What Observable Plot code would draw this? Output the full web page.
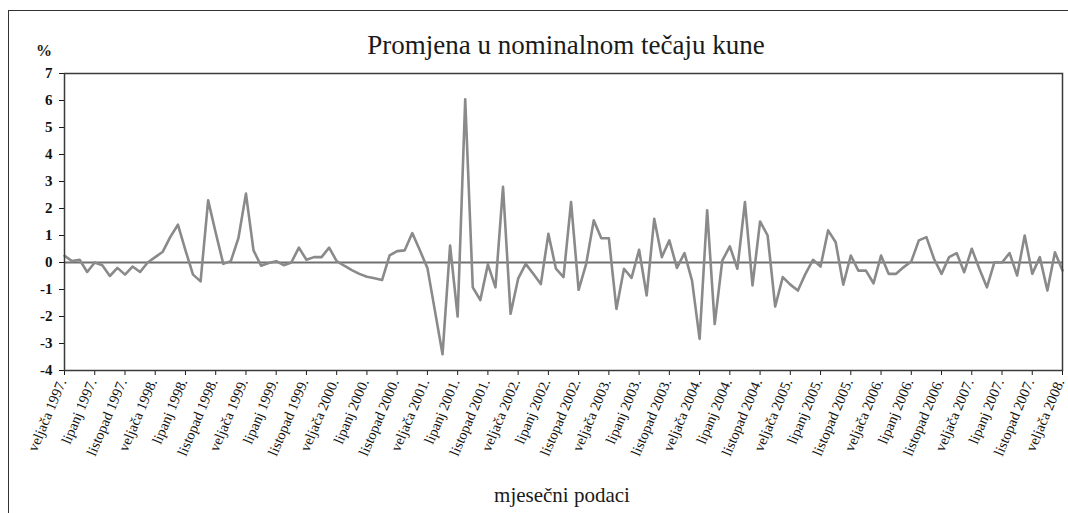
<!DOCTYPE html>
<html>
<head>
<meta charset="utf-8">
<script src="https://cdn.jsdelivr.net/npm/d3@7"></script>
<script src="https://cdn.jsdelivr.net/npm/@observablehq/plot@0.6"></script>
<style>
  body { margin: 0; background: #fff; }
  #wrap { position: relative; width: 1068px; height: 513px; overflow: hidden;
          font-family: "Liberation Serif", "Times New Roman", serif; color: #1a1a1a; }
  #border { position: absolute; left: 8px; top: 10px; width: 1080px; height: 530px;
            border: 1.5px solid #333; box-sizing: border-box; }
  .lbl { position: absolute; white-space: nowrap; line-height: 1; }
  #title { left: 566px; top: 32px; font-size: 27px; transform: translateX(-50%); }
  #pct { left: 36px; top: 43px; font-size: 16px; font-weight: bold; }
  #xlab { left: 562px; top: 485px; font-size: 21px; transform: translateX(-50%); }
  #chart { position: absolute; left: 0; top: 0; }
</style>
</head>
<body>
<div id="wrap">
  <div id="border"></div>
  <div id="chart"></div>
  <div class="lbl" id="title">Promjena u nominalnom tečaju kune</div>
  <div class="lbl" id="pct">%</div>
  <div class="lbl" id="xlab">mjesečni podaci</div>
</div>
<script>
// Monthly % change, veljača 1997 (index 0) … veljača 2008 (index 132)
const change = [
  0.25, 0.05, 0.1, -0.35, 0.0, -0.1, -0.5, -0.2, -0.45, -0.15,
  -0.35, 0.0, 0.2, 0.4, 0.95, 1.4, 0.45, -0.45, -0.7, 2.3,
  1.1, -0.05, 0.05, 0.9, 2.55, 0.45, -0.12, -0.02, 0.05, -0.1,
  0.0, 0.55, 0.1, 0.2, 0.2, 0.55, 0.05, -0.12, -0.28, -0.42,
  -0.53, -0.58, -0.65, 0.26, 0.42, 0.45, 1.09, 0.45, -0.2, -1.8,
  -3.4, 0.63, -2.0, 6.04, -0.92, -1.39, -0.07, -0.92, 2.8, -1.9,
  -0.6, -0.05, -0.42, -0.8, 1.06, -0.23, -0.54, 2.24, -1.01, -0.05,
  1.56, 0.9, 0.9, -1.72, -0.23, -0.57, 0.47, -1.22, 1.62, 0.2,
  0.82, -0.2, 0.35, -0.67, -2.83, 1.93, -2.28, 0.07, 0.6, -0.23,
  2.24, -0.85, 1.52, 1.0, -1.63, -0.54, -0.82, -1.04, -0.42, 0.1,
  -0.15, 1.19, 0.75, -0.82, 0.26, -0.3, -0.3, -0.77, 0.26, -0.42,
  -0.42, -0.17, 0.04, 0.82, 0.94, 0.14, -0.42, 0.2, 0.35, -0.36,
  0.51, -0.23, -0.92, 0.01, 0.0, 0.35, -0.48, 1.0, -0.42, 0.2,
  -1.04, 0.38, -0.3
];

const tickLabels = [
  "veljača 1997.", "lipanj 1997.", "listopad 1997.",
  "veljača 1998.", "lipanj 1998.", "listopad 1998.",
  "veljača 1999.", "lipanj 1999.", "listopad 1999.",
  "veljača 2000.", "lipanj 2000.", "listopad 2000.",
  "veljača 2001.", "lipanj 2001.", "listopad 2001.",
  "veljača 2002.", "lipanj 2002.", "listopad 2002.",
  "veljača 2003.", "lipanj 2003.", "listopad 2003.",
  "veljača 2004.", "lipanj 2004.", "listopad 2004.",
  "veljača 2005.", "lipanj 2005.", "listopad 2005.",
  "veljača 2006.", "lipanj 2006.", "listopad 2006.",
  "veljača 2007.", "lipanj 2007.", "listopad 2007.",
  "veljača 2008."
];
const tickStep = 4;
const tickPos = tickLabels.map((_, i) => i * tickStep);
const yTicks = [-4, -3, -2, -1, 0, 1, 2, 3, 4, 5, 6, 7];

const chart = Plot.plot({
  width: 1068,
  height: 513,
  marginLeft: 64,
  marginRight: 6,
  marginTop: 73,
  marginBottom: 143,
  x: { domain: [0, change.length - 1], axis: null },
  y: { domain: [-4, 7], axis: null },
  style: { fontFamily: "'Liberation Serif', serif", background: "transparent", color: "#1a1a1a", overflow: "visible" },
  marks: [
    Plot.axisY({ ticks: yTicks, tickSize: 5, tickFormat: () => "", label: null }),
    Plot.axisX({ ticks: tickPos, tickSize: 5, tickFormat: () => "", label: null }),
    Plot.text(yTicks, { y: d => d, frameAnchor: "left", text: d => String(d), textAnchor: "end",
                        dx: -12, fontSize: 15, fontWeight: "bold", fill: "#111" }),
    Plot.text(tickPos, { x: d => d, frameAnchor: "bottom", text: d => tickLabels[d / tickStep],
                         rotate: -67, textAnchor: "end", lineAnchor: "middle", dx: -2, dy: 9,
                         fontSize: 14.5, fill: "#111" }),
    Plot.ruleY([0], { stroke: "#707070", strokeWidth: 2 }),
    Plot.lineY(change, { x: (d, i) => i, y: d => d, stroke: "#8a8a8a", strokeWidth: 2.6 }),
    Plot.frame({ stroke: "#3a3a3a", strokeWidth: 1.5 })
  ]
});
document.getElementById("chart").appendChild(chart);
</script>
</body>
</html>
